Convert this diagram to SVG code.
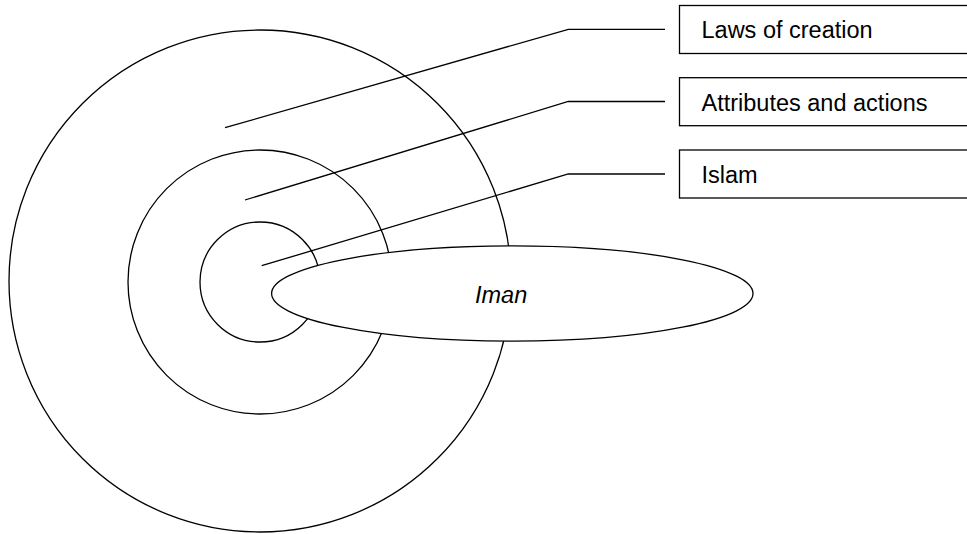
<svg xmlns="http://www.w3.org/2000/svg" width="967" height="534" viewBox="0 0 967 534">
<style>
.s{fill:#fff;stroke:#000;stroke-width:1.3}
.c{fill:none;stroke:#000;stroke-width:1.3}
.t{font-family:"Liberation Sans",Arial,sans-serif;font-size:23.5px;fill:#000}
</style>
<rect width="967" height="534" fill="#fff"/>
<g id="laws-circle"><circle class="s" cx="260" cy="281" r="251"/></g>
<g id="attributes-circle"><circle class="s" cx="260" cy="282" r="132"/></g>
<g id="islam-circle"><circle class="s" cx="260" cy="282" r="60"/></g>
<g id="connectors">
<polyline class="c" points="225,127.7 568.3,29.3 665,29.3"/>
<polyline class="c" points="245,200 568.3,101.5 665,101.5"/>
<polyline class="c" points="261.7,265.7 568.3,174 665,174"/>
</g>
<g id="iman"><ellipse class="s" cx="512.3" cy="293.5" rx="240.7" ry="47.7"/>
<text class="t" x="475" y="302.7" font-style="italic">Iman</text></g>
<g id="laws-box"><rect class="s" x="679.5" y="5.5" width="300" height="48"/>
<text class="t" x="701.5" y="38.3">Laws of creation</text></g>
<g id="attributes-box"><rect class="s" x="679.5" y="77.7" width="300" height="48"/>
<text class="t" x="701.5" y="110.5">Attributes and actions</text></g>
<g id="islam-box"><rect class="s" x="679.5" y="150" width="300" height="48"/>
<text class="t" x="701.5" y="183">Islam</text></g>
</svg>
